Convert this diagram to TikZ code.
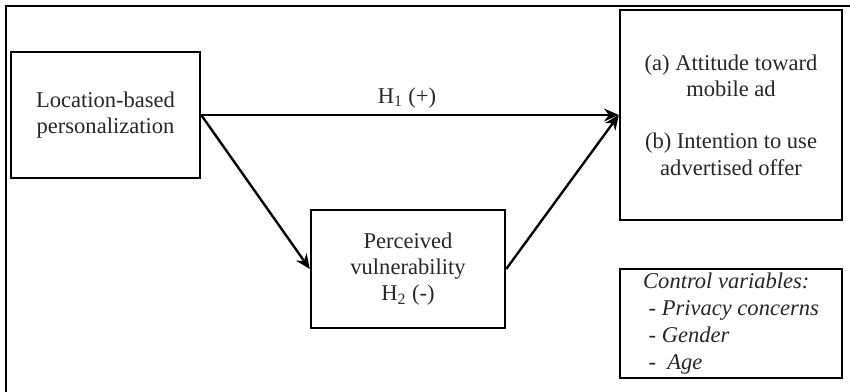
\documentclass[tikz,border=0pt]{standalone}
\usepackage{fontspec}
\setmainfont{Liberation Serif}
\usetikzlibrary{arrows.meta}

\begin{document}
\begin{tikzpicture}[x=0.0192cm, y=-0.0192cm, >={Stealth[length=8pt, width=7pt]},
		box/.style={draw, line width=1.3pt, align=center, inner sep=0pt, font=\fontsize{12.3}{14.4}\selectfont},
		path/.style={->, line width=1.3pt},
		every node/.style={text=black!85}]
	\useasboundingbox (0,0) rectangle (850,392);
	% outer frame (cut by the page on the right and at the bottom)
	\draw[line width=1.1pt] (6,392) |- (850,6);
	
	% boxes
	\node[box, minimum width=3.629cm, minimum height=2.419cm] (loc) at (105.5,115) {Location-based\\personalization};
	\node[box, minimum width=3.725cm, minimum height=2.266cm] (vul) at (408,269) {Perceived\\vulnerability\\H\textsubscript{2} (-)};
	\node[box, minimum width=4.262cm, minimum height=4.032cm] (out) at (731,115) {(a) Attitude toward\\mobile ad\\[14pt](b) Intention to use\\advertised offer};
	\node[box, align=left, minimum width=4.262cm, minimum height=2.093cm, font=\fontsize{12.3}{14.6}\selectfont\itshape] (ctrl) at (731,323.5)
		{Control variables:\\\hspace{3pt}- Privacy concerns\\\hspace{3pt}- Gender\\\hspace{3pt}-\ \ Age};
	
	% hypotheses
	\node[font=\fontsize{12.3}{14.4}\selectfont] (h1) at (407,98) {H\textsubscript{1} (+)};
	\draw[path] (loc.east) -- (out.west);
	\draw[path] (loc.east) -- (vul.west);
	\draw[path] (vul.east) -- (out.west);
\end{tikzpicture}
\end{document}
